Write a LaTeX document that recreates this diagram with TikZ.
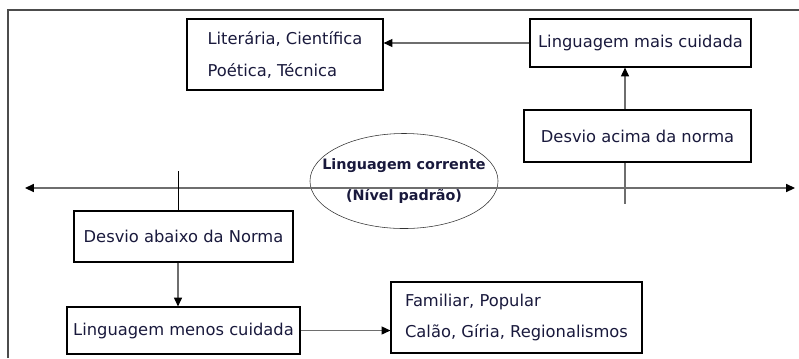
\documentclass[tikz,border=0pt]{standalone}
\usepackage{fontspec}
\setmainfont{DejaVu Sans}
\usetikzlibrary{arrows.meta, positioning, shapes.geometric}
\definecolor{txtblue}{RGB}{25,25,60}
\definecolor{linegray}{RGB}{110,110,110}

\begin{document}
\begin{tikzpicture}[
            x=0.025cm, y=-0.025cm,
            every node/.style={font=\fontsize{11.6}{22.7}\selectfont, text=txtblue, align=left},
            box/.style={draw, thick, inner sep=0pt},
            conn/.style={-{Triangle[length=0.22cm, width=0.2cm, color=black]}, linegray, thick},
            plain/.style={black, semithick}
        ]
        \useasboundingbox (0,0) rectangle (799,358);

        % Frame
        \draw[black!70, thick] (8,358) -- (8,10) -- (799,10);

        % Upper side
        \node[box, minimum width=4.9cm, minimum height=1.775cm] (lit) at (285,54.5) {Literária, Científica\\Poética, Técnica};
        \node[box, minimum width=5.525cm, minimum height=1.2cm] (mais) at (640.5,43) {Linguagem mais cuidada};
        \node[box, minimum width=5.675cm, minimum height=1.3cm] (acima) at (637.5,136) {Desvio acima da norma};

        % Middle
        \node[draw=black!80, ellipse, inner sep=0pt, minimum width=4.7cm, minimum height=2.375cm,
              label={[align=center, font=\fontsize{10.2}{22}\selectfont\bfseries]center:Linguagem corrente\\(Nível padrão)}] (corrente) at (404,181) {};
        \coordinate (axL) at (25,188);
        \coordinate (axR) at (795,188);
        \coordinate (tickL) at (178,171);
        \coordinate (tickR) at (625,204);

        % Lower side
        \node[box, minimum width=5.475cm, minimum height=1.275cm] (abaixo) at (183.5,236.5) {Desvio abaixo da Norma};
        \node[box, minimum width=5.825cm, minimum height=1.175cm] (menos) at (183.5,330.5) {Linguagem menos cuidada};
        \node[box, minimum width=6.275cm, minimum height=1.775cm] (fam) at (516.5,317.5) {Familiar, Popular\\Calão, Gíria, Regionalismos};

        % Connections
        \draw[conn, {Triangle[length=0.22cm, width=0.2cm, color=black]}-{Triangle[length=0.22cm, width=0.2cm, color=black]}] (axL) -- (axR);
        \draw[conn] (mais.west) -- (mais.west -| lit.east);
        \draw[linegray, thick] (acima.south -| tickR) -- (tickR);
        \draw[conn] (acima.north -| tickR) -- (mais.south -| tickR);
        \draw[plain] (tickL) -- (abaixo.north -| tickL);
        \draw[conn] (abaixo.south -| tickL) -- (menos.north -| tickL);
        \draw[conn] (menos.east) -- (fam.west |- menos.east);

    \end{tikzpicture}
\end{document}
